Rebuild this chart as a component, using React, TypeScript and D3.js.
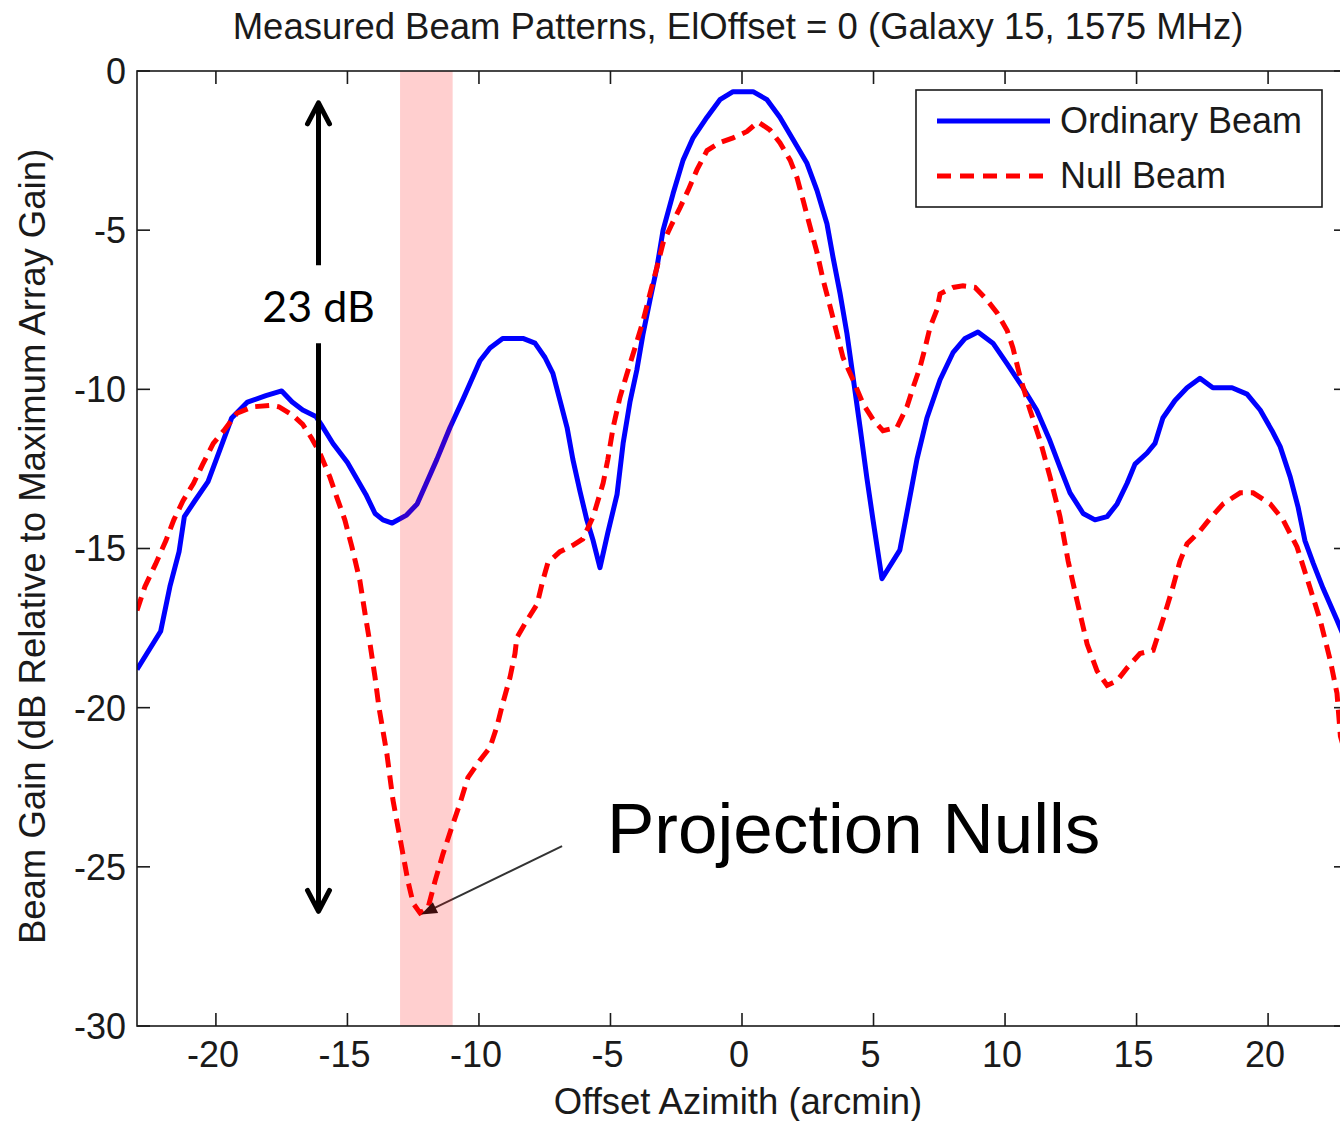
import React from 'react';
import * as d3 from 'd3';

// Ordinary beam (solid blue)
const ordinaryAz = [
  -23, -22.1, -21.75, -21.4, -21.2, -20.8, -20.3, -19.85, -19.4, -18.8, -18.1, -17.5, -17.1, -16.7,
  -16.2, -16.0, -15.55, -15.0, -14.65, -14.3, -13.95, -13.65, -13.3, -12.75, -12.35, -12.0, -11.6,
  -11.1, -10.6, -9.96, -9.58, -9.1, -8.33, -7.87, -7.49, -7.19, -6.92, -6.65, -6.43, -6.16, -5.9,
  -5.66, -5.4, -5.1, -4.75, -4.52, -4.26, -4.0, -3.76, -3.5, -3.23, -3.0, -2.62, -2.24, -1.86, -1.33,
  -0.84, -0.34, 0.42, 0.95, 1.44, 1.94, 2.47, 2.85, 3.23, 3.46, 3.73, 3.99, 4.22, 4.49, 4.75, 4.98,
  5.32, 6.0, 6.31, 6.65, 7.03, 7.53, 8.02, 8.48, 8.97, 9.54, 10.08, 10.68, 11.2, 11.7, 12.09, 12.47,
  12.97, 13.42, 13.88, 14.26, 14.64, 14.94, 15.4, 15.7, 16.0, 16.46, 16.92, 17.41, 17.9, 18.63, 19.2,
  19.7, 20.15, 20.46, 20.84, 21.14, 21.4, 21.71, 22.09, 22.62, 23.0,
];
const ordinaryGain = [
  -18.8, -17.6, -16.2, -15.1, -14.0, -13.5, -12.9, -11.9, -10.9, -10.4, -10.2, -10.05, -10.4, -10.65,
  -10.85, -11.1, -11.7, -12.3, -12.8, -13.3, -13.9, -14.1, -14.2, -13.95, -13.6, -12.95, -12.2,
  -11.2, -10.3, -9.1, -8.7, -8.4, -8.4, -8.55, -9.0, -9.5, -10.35, -11.2, -12.2, -13.2, -14.1,
  -14.75, -15.6, -14.5, -13.3, -11.7, -10.4, -9.4, -8.25, -7.2, -6.15, -5.0, -3.85, -2.8, -2.1, -1.45,
  -0.9, -0.65, -0.65, -0.9, -1.45, -2.15, -2.9, -3.75, -4.8, -5.85, -7.0, -8.25, -9.6, -11.2, -12.8, -14.1,
  -15.95, -15.05, -13.7, -12.2, -10.9, -9.7, -8.85, -8.4, -8.2, -8.55, -9.2, -9.95, -10.65, -11.6, -12.45, -13.25,
  -13.9, -14.1, -14.0, -13.6, -12.95, -12.35, -12.0, -11.7, -10.9, -10.35, -9.95, -9.65, -9.95, -9.95, -10.15,
  -10.65, -11.3, -11.8, -12.75, -13.7, -14.75, -15.45, -16.25, -17.25, -18.0,
];

// Null beam (dashed red)
const nullAz = [
  -23, -22.7, -22.3, -21.9, -21.6, -21.25, -20.85, -20.5, -20.1, -19.7, -19.2, -18.6, -17.9, -17.6,
  -17.1, -16.7, -16.35, -16.05, -15.67, -15.4, -15.1, -14.83, -14.53, -14.33, -14.14, -13.95, -13.8,
  -13.5, -13.27, -13.08, -12.89, -12.7, -12.5, -12.24, -11.94, -11.67, -11.37, -11.03, -10.72, -10.42,
  -9.96, -9.58, -9.32, -9.09, -8.82, -8.63, -8.56, -8.17, -7.79, -7.57, -7.38, -6.92, -6.43, -6.05,
  -5.66, -5.28, -5.1, -4.9, -4.64, -4.37, -4.07, -3.76, -3.5, -3.23, -3.0, -2.66, -2.36, -2.05, -1.71,
  -1.33, -0.84, -0.34, 0.19, 0.61, 1.06, 1.44, 1.83, 2.09, 2.32, 2.59, 2.85, 3.08, 3.35, 3.61, 3.84,
  4.22, 4.6, 4.98, 5.36, 5.89, 6.27, 6.5, 6.77, 6.96, 7.15, 7.41, 7.53, 8.02, 8.4, 8.86, 9.32, 9.7,
  10.08, 10.3, 10.57, 10.95, 11.33, 11.71, 12.09, 12.4, 12.74, 13.12, 13.5, 13.88, 14.26, 14.64, 15.13,
  15.63, 16.0, 16.35, 16.65, 16.92, 17.41, 17.8, 18.29, 18.94, 19.43, 20.08, 20.57, 21.1, 21.6, 21.98,
  22.36, 22.62, 22.75, 23.0,
];
const nullGain = [
  -16.95, -16.2, -15.5, -14.75, -14.1, -13.5, -12.95, -12.35, -11.7, -11.3, -10.75, -10.55, -10.5, -10.55,
  -10.8, -11.1, -11.55, -12.0, -12.75, -13.4, -14.1, -14.95, -16.0, -17.05, -18.0, -19.05, -20.0,
  -21.45, -22.9, -23.75, -24.6, -25.45, -26.15, -26.45, -26.3, -25.45, -24.6, -23.75, -23.0, -22.2,
  -21.65, -21.25, -20.6, -19.85, -19.05, -18.3, -17.8, -17.25, -16.75, -16.0, -15.45, -15.1, -14.9, -14.7,
  -14.0, -12.95, -12.2, -11.2, -10.25, -9.5, -8.7, -7.85, -7.0, -6.15, -5.4, -4.8, -4.3, -3.75, -3.1,
  -2.5, -2.25, -2.1, -1.9, -1.6, -1.85, -2.25, -2.8, -3.35, -4.05, -4.9, -5.7, -6.55, -7.4, -8.25, -9.0,
  -9.7, -10.45, -10.95, -11.3, -11.2, -10.55, -9.95, -9.3, -8.7, -8.05, -7.5, -7.0, -6.8, -6.75, -6.8, -7.2, -7.6,
  -8.15, -8.7, -9.6, -10.65, -11.6, -12.75, -14.0, -15.4, -16.65, -18.0, -18.85, -19.3, -19.15, -18.75, -18.3,
  -18.2, -17.25, -16.3, -15.4, -14.85, -14.45, -14.05, -13.6, -13.25, -13.25, -13.6, -14.1, -14.95, -16.25, -17.25,
  -18.5, -19.55, -20.9, -21.6,
];

const xTicks = [-20, -15, -10, -5, 0, 5, 10, 15, 20];
const yTicks = [0, -5, -10, -15, -20, -25, -30];
const nullBand = [-13, -11];
const spanArrow = { az: -16.1, top: -1.0, bottom: -26.4, gapTop: -6.1, gapBottom: -8.55 };
const pointer = { fromAz: -6.84, fromGain: -24.35, toAz: -12.2, toGain: -26.5 };

const W = 1340;
const H = 1121;
const margin = { top: 71, right: -7, bottom: 95, left: 137 };
const font = '"Liberation Sans", Arial, sans-serif';
const ink = '#1a1a1a';

export default function App() {
  const x = d3.scaleLinear().domain([-23, 23]).range([margin.left, W - margin.right]);
  const y = d3.scaleLinear().domain([-30, 0]).range([H - margin.bottom, margin.top]);
  const [x0, x1] = x.range();
  const [yb, yt] = y.range();

  const line = (az: number[], g: number[]) =>
    d3.line<number>().x((_, i) => x(az[i])).y((_, i) => y(g[i]))(az) ?? '';

  const tick = 13;
  const ax = x(spanArrow.az);
  const pFrom = [x(pointer.fromAz), y(pointer.fromGain)];
  const pTo = [x(pointer.toAz), y(pointer.toGain)];
  const ang = Math.atan2(pTo[1] - pFrom[1], pTo[0] - pFrom[0]);
  const hl = 16, hw = 6;
  const head = [
    [pTo[0], pTo[1]],
    [pTo[0] - hl * Math.cos(ang) + hw * Math.sin(ang), pTo[1] - hl * Math.sin(ang) - hw * Math.cos(ang)],
    [pTo[0] - hl * Math.cos(ang) - hw * Math.sin(ang), pTo[1] - hl * Math.sin(ang) + hw * Math.cos(ang)],
  ];

  return (
    <div style={{ position: 'absolute', left: 0, top: 0 }}>
      <svg width={W} height={H} style={{ display: 'block', background: '#fff' }}>
        <defs>
          <clipPath id="plot">
            <rect x={x0} y={yt} width={x1 - x0} height={yb - yt} />
          </clipPath>
        </defs>

        <text x={738} y={39} textAnchor="middle" fontFamily={font} fontSize={36.5} fill={ink}>
          Measured Beam Patterns, ElOffset = 0 (Galaxy 15, 1575 MHz)
        </text>

        <g clipPath="url(#plot)">
          <path d={line(ordinaryAz, ordinaryGain)} fill="none" stroke="#0000ff" strokeWidth={5} strokeLinejoin="round" />
          <path d={line(nullAz, nullGain)} fill="none" stroke="#ff0000" strokeWidth={5} strokeDasharray="14,8" />

          {/* projection null pointer */}
          <line x1={pFrom[0]} y1={pFrom[1]} x2={head[0][0] - (hl - 2) * Math.cos(ang)} y2={head[0][1] - (hl - 2) * Math.sin(ang)} stroke="#333" strokeWidth={2} />
          <polygon points={head.map(p => p.join(',')).join(' ')} fill="#111" />

          <rect x={x(nullBand[0])} y={yt} width={x(nullBand[1]) - x(nullBand[0])} height={yb - yt} fill="#ff0000" fillOpacity={0.19} />

          {/* 23 dB span arrow */}
          <line x1={ax} y1={y(spanArrow.top) + 2} x2={ax} y2={y(spanArrow.gapTop)} stroke="#000" strokeWidth={5} />
          <line x1={ax} y1={y(spanArrow.gapBottom)} x2={ax} y2={y(spanArrow.bottom) - 2} stroke="#000" strokeWidth={5} />
          <path d={`M${ax - 11},${y(spanArrow.top) + 21}L${ax},${y(spanArrow.top)}L${ax + 11},${y(spanArrow.top) + 21}`} fill="none" stroke="#000" strokeWidth={5} strokeLinecap="round" strokeLinejoin="round" />
          <path d={`M${ax - 11},${y(spanArrow.bottom) - 21}L${ax},${y(spanArrow.bottom)}L${ax + 11},${y(spanArrow.bottom) - 21}`} fill="none" stroke="#000" strokeWidth={5} strokeLinecap="round" strokeLinejoin="round" />
        </g>

        <text x={ax} y={322} textAnchor="middle" fontFamily="Lato, 'Open Sans', sans-serif" fontSize={43} fill="#000">
          23 dB
        </text>
        <text x={607} y={853} fontFamily={font} fontSize={71} fill="#000">
          Projection Nulls
        </text>

        {/* axes box and ticks */}
        <rect x={x0} y={yt} width={x1 - x0} height={yb - yt} fill="none" stroke={ink} strokeWidth={1.6} />
        {xTicks.map(t => (
          <g key={`x${t}`}>
            <line x1={x(t)} x2={x(t)} y1={yb} y2={yb - tick} stroke={ink} strokeWidth={1.6} />
            <line x1={x(t)} x2={x(t)} y1={yt} y2={yt + tick} stroke={ink} strokeWidth={1.6} />
            <text x={x(t) - 3} y={1067} textAnchor="middle" fontFamily={font} fontSize={36} fill={ink}>
              {t}
            </text>
          </g>
        ))}
        {yTicks.map(t => (
          <g key={`y${t}`}>
            <line x1={x0} x2={x0 + tick} y1={y(t)} y2={y(t)} stroke={ink} strokeWidth={1.6} />
            <line x1={x1} x2={x1 - tick} y1={y(t)} y2={y(t)} stroke={ink} strokeWidth={1.6} />
            <text x={126} y={y(t)} dy="0.36em" textAnchor="end" fontFamily={font} fontSize={36} fill={ink}>
              {t}
            </text>
          </g>
        ))}

        <text x={738} y={1114} textAnchor="middle" fontFamily={font} fontSize={36.5} fill={ink}>
          Offset Azimith (arcmin)
        </text>
        <text transform={`translate(45,${(yt + yb) / 2 - 2}) rotate(-90)`} textAnchor="middle" fontFamily={font} fontSize={36.5} fill={ink}>
          Beam Gain (dB Relative to Maximum Array Gain)
        </text>

        {/* legend */}
        <g>
          <rect x={916} y={90} width={406} height={117} fill="#fff" stroke={ink} strokeWidth={1.6} />
          <line x1={937} x2={1050} y1={121} y2={121} stroke="#0000ff" strokeWidth={5} />
          <text x={1060} y={133} fontFamily={font} fontSize={36} fill={ink}>Ordinary Beam</text>
          <line x1={937} x2={1043} y1={176} y2={176} stroke="#ff0000" strokeWidth={5} strokeDasharray="14,9" />
          <text x={1060} y={188} fontFamily={font} fontSize={36} fill={ink}>Null Beam</text>
        </g>
      </svg>
    </div>
  );
}
